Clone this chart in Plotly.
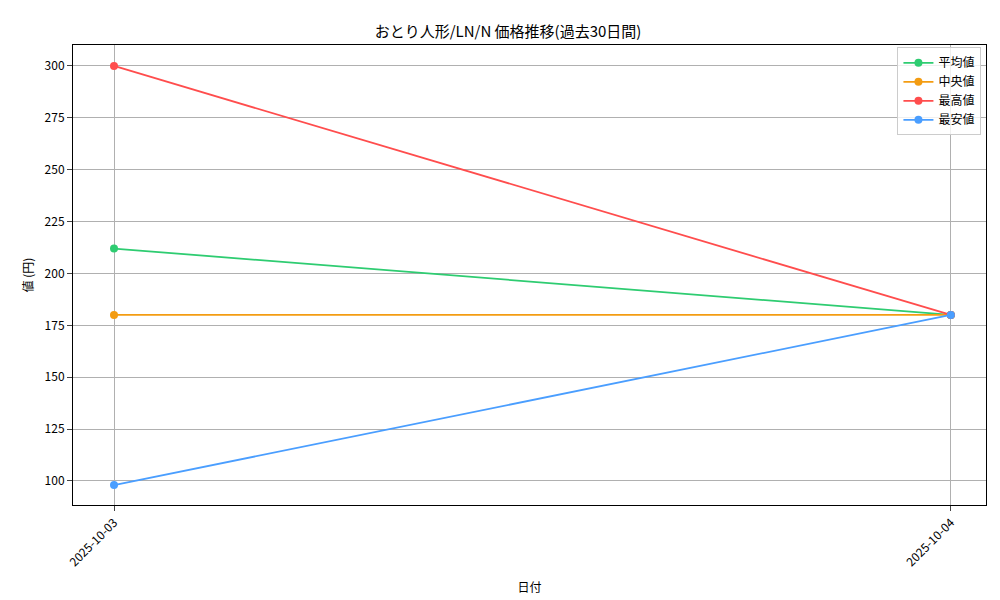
import plotly.graph_objects as go

dates = ["2025-10-03", "2025-10-04"]
avg = [212, 180]
med = [180, 180]
mx = [300, 180]
mn = [98, 180]
series = [("平均値", avg, "#2ecc71"), ("中央値", med, "#f39c12"),
          ("最高値", mx, "#ff4d4d"), ("最安値", mn, "#4a9eff")]

fig = go.Figure()
xi = list(range(len(dates)))
for name, vals, col in series:
    fig.add_trace(go.Scatter(x=xi, y=vals, name=name, mode="lines+markers",
                             line=dict(color=col, width=1.8), marker=dict(size=8, color=col)))

font = "Noto Sans CJK JP, DejaVu Sans"
fig.update_layout(
    width=1000, height=600, paper_bgcolor="white", plot_bgcolor="white",
    margin=dict(l=65, r=22, t=37, b=103, autoexpand=False),
    font=dict(family=font, size=12, color="black"),
    title=dict(text="おとり人形/LN/N 価格推移(過去30日間)", x=0.5, xanchor="center", y=0.96, yanchor="middle", font=dict(size=15)),
    legend=dict(x=0.995, y=0.995, xanchor="right", yanchor="top", bordercolor="#cccccc",
                borderwidth=1, bgcolor="rgba(255,255,255,0.8)"),
    showlegend=True,
)
fig.update_xaxes(range=[-0.049, 1.042], tickvals=xi, ticktext=dates, tickangle=-45, automargin=False,
                 showgrid=True, gridcolor="#b0b0b0", showline=True, linecolor="black", mirror=True,
                 ticks="outside", title=dict(text="日付", font=dict(size=12)), zeroline=False)
fig.update_yaxes(range=[88.4, 310.1], dtick=25, showgrid=True, gridcolor="#b0b0b0", automargin=False,
                 showline=True, linecolor="black", mirror=True, ticks="outside",
                 title=dict(text="値 (円)", font=dict(size=12), standoff=8), zeroline=False)
fig.write_html("out.html")
